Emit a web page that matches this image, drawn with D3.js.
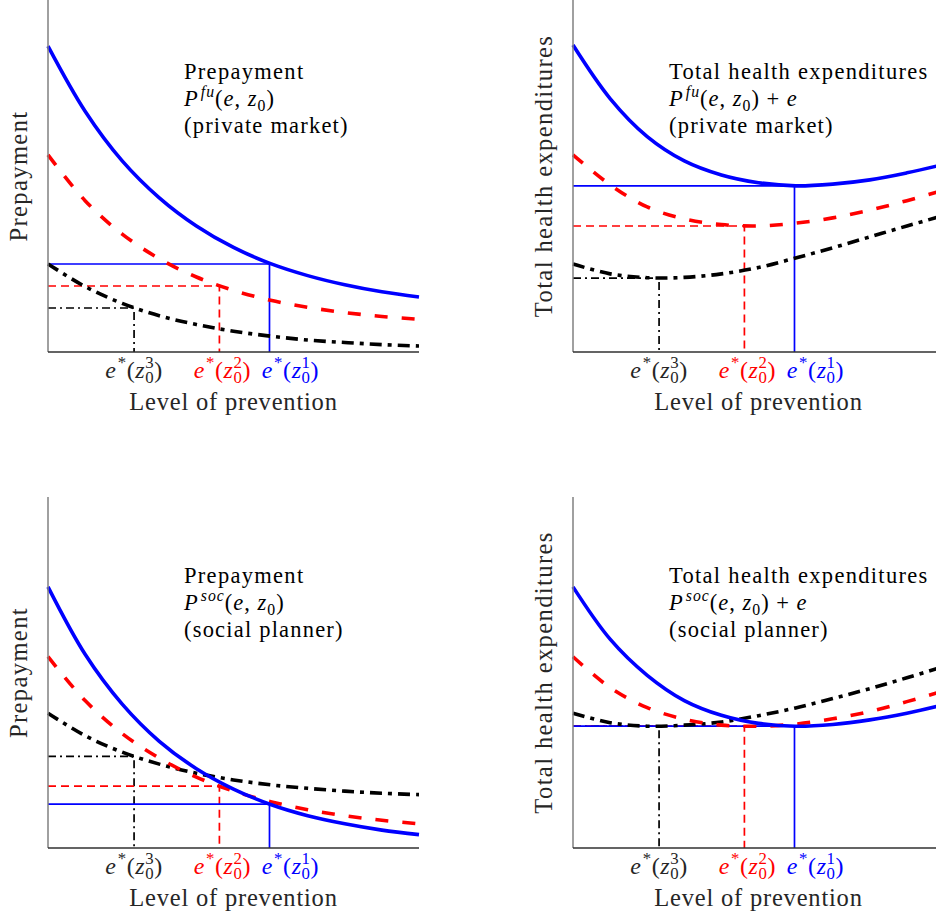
<!DOCTYPE html>
<html>
<head>
<meta charset="utf-8">
<script src="https://cdn.jsdelivr.net/npm/d3@7"></script>
<style>
  body { margin: 0; background: #fff; }
  svg text { font-family: "Liberation Serif", "Times New Roman", serif; }
</style>
</head>
<body>
<svg id="chart" width="936" height="918"></svg>
<script>
// ---- data (level of prevention 0..10) ----
var effort = [0, 1, 2, 3, 4, 5, 6, 7, 8, 9, 10];

// optimal prevention for z0^3, z0^2, z0^1
var eStar = [2.32, 4.62, 5.97];
var tickNames = ["3", "2", "1"];

// prepayment, private market
var prepFuBlue  = [8.69, 6.84, 5.43, 4.38, 3.58, 2.97, 2.51, 2.17, 1.91, 1.71, 1.56];
var prepFuRed   = [5.60, 4.30, 3.35, 2.65, 2.13, 1.75, 1.47, 1.27, 1.12, 1.01, 0.93];
var prepFuBlack = [2.50, 1.86, 1.38, 1.03, 0.78, 0.59, 0.45, 0.34, 0.27, 0.21, 0.17];
var prepFuLevels = [1.25, 1.875, 2.5];   // black, red, blue

// total expenditures, private market
var totFuBlue  = [8.72, 7.20, 6.12, 5.43, 5.03, 4.81, 4.72, 4.77, 4.89, 5.09, 5.33];
var totFuRed   = [5.60, 4.75, 4.12, 3.78, 3.62, 3.58, 3.66, 3.81, 4.03, 4.30, 4.60];
var totFuBlack = [2.50, 2.22, 2.11, 2.12, 2.22, 2.40, 2.67, 2.96, 3.27, 3.58, 3.88];
var totFuLevels = [2.10, 3.58, 4.72];

// prepayment, social planner
var prepSocBlue  = [7.44, 5.52, 4.10, 3.04, 2.26, 1.68, 1.24, 0.92, 0.69, 0.51, 0.38];
var prepSocRed   = [5.45, 4.20, 3.26, 2.56, 2.02, 1.62, 1.32, 1.09, 0.92, 0.79, 0.69];
var prepSocBlack = [3.84, 3.20, 2.73, 2.39, 2.13, 1.94, 1.80, 1.70, 1.62, 1.56, 1.52];
var prepSocLevels = [2.61, 1.76, 1.25];

// total expenditures, social planner
var totSocBlue  = [7.44, 5.95, 4.92, 4.20, 3.78, 3.55, 3.47, 3.52, 3.65, 3.84, 4.08];
var totSocRed   = [5.45, 4.57, 4.00, 3.67, 3.50, 3.47, 3.53, 3.68, 3.89, 4.17, 4.48];
var totSocBlack = [3.84, 3.57, 3.47, 3.50, 3.59, 3.77, 3.99, 4.26, 4.54, 4.85, 5.17];
var totSocLevels = [3.47, 3.47, 3.47];

var yLabels = ["Prepayment", "Total health expenditures"];

// ---- layout ----
var svg = d3.select("#chart");
var plotW = 371;
var colors = ["#000000", "#ff0000", "#0000ff"];      // black, red, blue
var curveDash = ["12,6,4,6", "13,14", null];
var guideDash = ["8,4,2,4", "8,5", null];
var labelShift = [0, 3, 21];
var txt = "#262626";

var panels = [
  { left: 48,  top: 0,   h: 352, series: [prepFuBlack, prepFuRed, prepFuBlue], levels: prepFuLevels,
    ylab: yLabels[0], note: { x: 184, y: 79, title: "Prepayment", sup: "fu", plus: false, who: "(private market)" } },
  { left: 573, top: 0,   h: 352, series: [totFuBlack, totFuRed, totFuBlue], levels: totFuLevels,
    ylab: yLabels[1], note: { x: 669, y: 79, title: "Total health expenditures", sup: "fu", plus: true, who: "(private market)" } },
  { left: 48,  top: 497, h: 351, series: [prepSocBlack, prepSocRed, prepSocBlue], levels: prepSocLevels,
    ylab: yLabels[0], note: { x: 184, y: 583, title: "Prepayment", sup: "soc", plus: false, who: "(social planner)" } },
  { left: 573, top: 497, h: 351, series: [totSocBlack, totSocRed, totSocBlue], levels: totSocLevels,
    ylab: yLabels[1], note: { x: 669, y: 583, title: "Total health expenditures", sup: "soc", plus: true, who: "(social planner)" } }
];

// write a run of roman / italic / sup / sub pieces into a text element
function mathText(sel, runs, size) {
  var cur = 0;
  runs.forEach(function(r) {
    var off = r.pos == "sup" ? -0.42 * size : (r.pos == "sub" ? 0.2 * size : 0);
    var ts = sel.append("tspan")
      .text(r.t)
      .attr("dy", off - cur)
      .attr("font-size", r.pos ? size * 0.7 : size)
      .attr("font-style", r.i ? "italic" : "normal");
    if (r.dx) ts.attr("dx", r.dx);
    cur = off;
  });
  return cur;
}

panels.forEach(function(p, pi) {
  var g = svg.append("g").attr("transform", "translate(" + p.left + "," + p.top + ")");
  var x = d3.scaleLinear().domain([0, 10]).range([0, plotW]);
  var y = d3.scaleLinear().domain([0, 10]).range([p.h, 0]);

  // guides first, curves on top
  eStar.forEach(function(e, i) {
    var lv = p.levels[i];
    var gl = g.append("path")
      .attr("d", "M" + x(0) + "," + y(lv) + "H" + x(e) + "V" + y(0))
      .attr("fill", "none")
      .attr("stroke", colors[i])
      .attr("stroke-width", 1.7);
    if (guideDash[i]) gl.attr("stroke-dasharray", guideDash[i]);
  });

  var line = d3.line()
    .x(function(d, i) { return x(effort[i]); })
    .y(function(d) { return y(d); })
    .curve(d3.curveCatmullRom.alpha(0.5));

  p.series.forEach(function(s, i) {
    var c = g.append("path")
      .datum(s)
      .attr("d", line)
      .attr("fill", "none")
      .attr("stroke", colors[i])
      .attr("stroke-width", 3.6);
    if (curveDash[i]) c.attr("stroke-dasharray", curveDash[i]);
  });

  // axes: only the two lines, no ticks
  g.append("line").attr("x1", 0).attr("x2", 0).attr("y1", 0).attr("y2", p.h)
    .attr("stroke", "#808080").attr("stroke-width", 1.5);
  g.append("line").attr("x1", 0).attr("x2", plotW).attr("y1", p.h).attr("y2", p.h)
    .attr("stroke", "#303030").attr("stroke-width", 1.5);

  // tick labels e*(z0^k)
  eStar.forEach(function(e, i) {
    var t = g.append("text")
      .attr("x", x(e) + labelShift[i])
      .attr("y", p.h + 26)
      .attr("text-anchor", "middle")
      .attr("fill", i == 0 ? txt : colors[i])
      .attr("font-size", 24)
      .attr("letter-spacing", 0.6);
    mathText(t, [
      { t: "e", i: true },
      { t: "*", pos: "sup", dx: 1 },
      { t: "(" },
      { t: "z", i: true },
      { t: tickNames[i], pos: "sup" },
      { t: "0", pos: "sub", dx: -9 },
      { t: ")" }
    ], 24);
  });

  // axis titles
  g.append("text")
    .attr("x", plotW / 2)
    .attr("y", p.h + 58)
    .attr("text-anchor", "middle")
    .attr("fill", txt)
    .attr("font-size", 24.5)
    .attr("letter-spacing", 0.8)
    .text("Level of prevention");

  g.append("text")
    .attr("transform", "translate(-21," + (p.h / 2) + ") rotate(-90)")
    .attr("text-anchor", "middle")
    .attr("fill", txt)
    .attr("font-size", 24.5)
    .attr("letter-spacing", 1.4)
    .text(p.ylab);

  // in-plot note, 3 lines
  var n = p.note;
  var fs = 22.5;
  svg.append("text").attr("x", n.x).attr("y", n.y).attr("font-size", fs)
    .attr("letter-spacing", 1.3).attr("fill", "#000").text(n.title);
  var t2 = svg.append("text").attr("x", n.x).attr("y", n.y + 27).attr("font-size", fs)
    .attr("letter-spacing", 1).attr("fill", "#000");
  var runs = [
    { t: "P", i: true },
    { t: n.sup, i: true, pos: "sup", dx: 2 },
    { t: "(" },
    { t: "e", i: true },
    { t: ", " },
    { t: "z", i: true },
    { t: "0", pos: "sub" },
    { t: ")" }
  ];
  if (n.plus) {
    runs.push({ t: " + " });
    runs.push({ t: "e", i: true });
  }
  mathText(t2, runs, fs);
  svg.append("text").attr("x", n.x).attr("y", n.y + 54).attr("font-size", fs)
    .attr("letter-spacing", 1.2).attr("fill", "#000").text(n.who);
});
</script>
</body>
</html>
